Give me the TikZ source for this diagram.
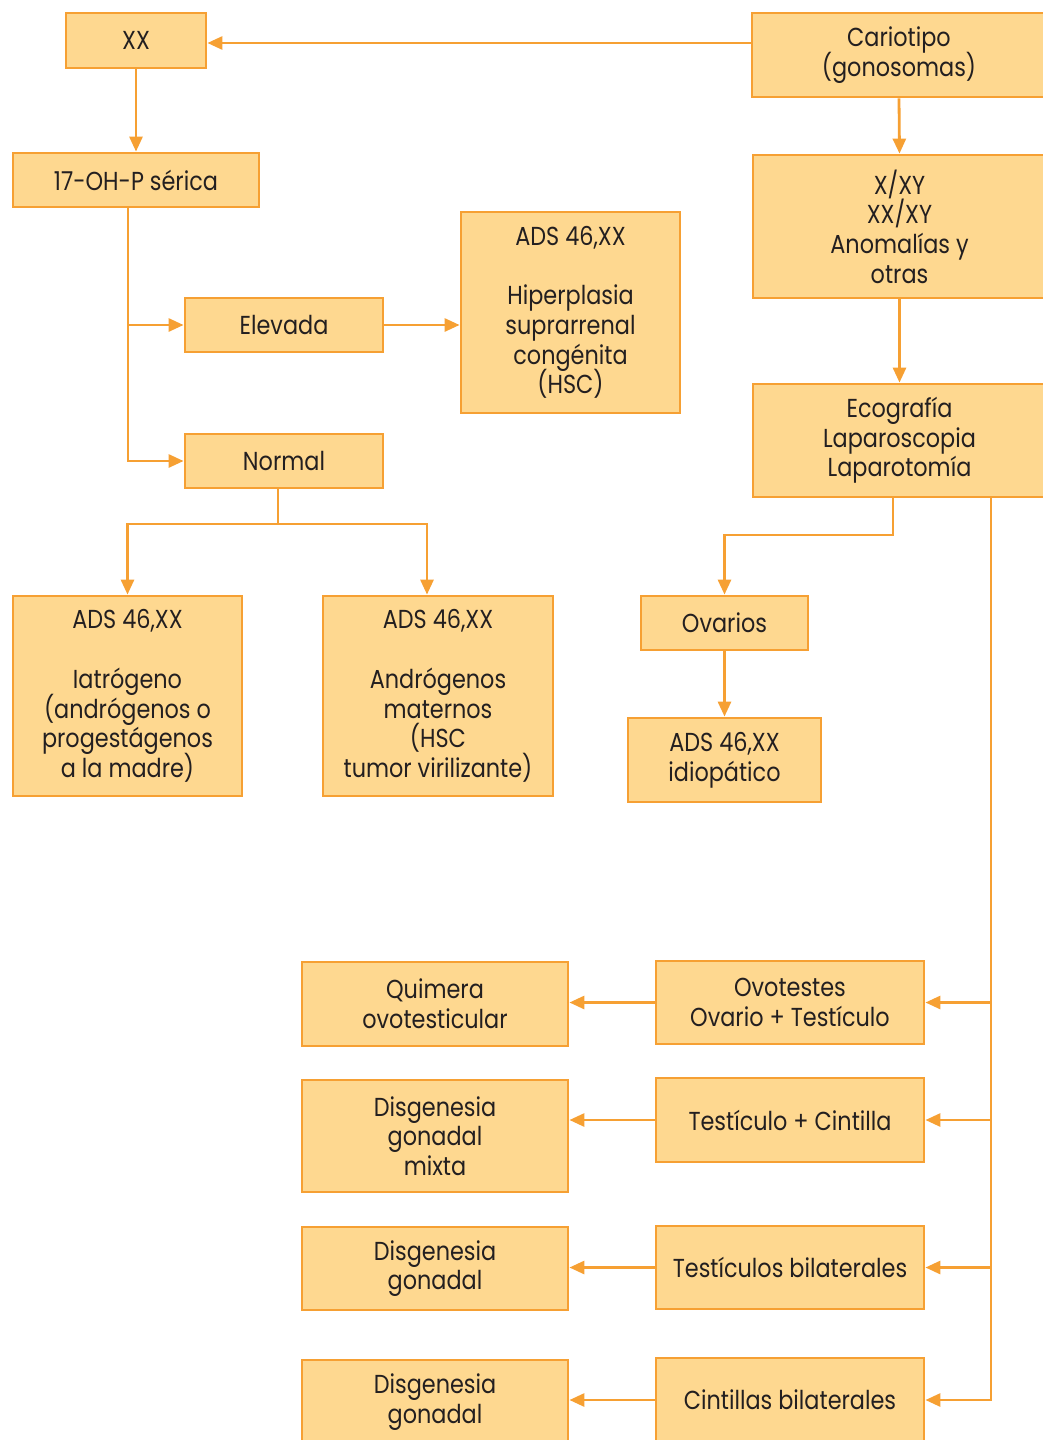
\documentclass[tikz,border=0pt]{standalone}
\usepackage{fontspec}
\setmainfont{Poppins}[FakeStretch=0.86]
\usetikzlibrary{arrows.meta}

\definecolor{boxfill}{HTML}{FED890}
\definecolor{boxline}{HTML}{F6A033}
\definecolor{ink}{HTML}{231F20}

\newcommand{\boxfont}{\fontsize{13}{14.85}\selectfont\lineskiplimit=-20pt\relax}

\tikzset{
  box/.style={draw=boxline, fill=boxfill, line width=1.4pt, inner sep=0pt,
    align=center, text=ink, font=\boxfont},
  arr/.style={draw=boxline, line width=1.4pt,
    -{Triangle[length=7.5pt,width=6.5pt]}},
  ln/.style={draw=boxline, line width=1.4pt}
}

\begin{document}
\begin{tikzpicture}[x=0.5pt, y=-0.5pt]
\useasboundingbox (0,0) rectangle (1043,1440);
\clip (0,0) rectangle (1043,1440);

% Left branch
\node[box, minimum width=70pt, minimum height=27.5pt] (xx) at (136,40.5) {XX};
\node[box, minimum width=123pt, minimum height=27pt] (ohp) at (136,180) {17-OH-P sérica};
\node[box, minimum width=99pt, minimum height=27pt] (elev) at (284,325) {Elevada};
\node[box, minimum width=109.5pt, minimum height=100.5pt] (hsc) at (570.5,312.5)
  {ADS 46,XX\\\mbox{}\\Hiperplasia\\suprarrenal\\congénita\\(HSC)};
\node[box, minimum width=99pt, minimum height=27pt] (normal) at (284,461) {Normal};
\node[box, minimum width=114.5pt, minimum height=100pt] (iatro) at (127.5,696)
  {ADS 46,XX\\\mbox{}\\Iatrógeno\\(andrógenos o\\progestágenos\\a la madre)};
\node[box, minimum width=115pt, minimum height=100pt] (matern) at (438,696)
  {ADS 46,XX\\\mbox{}\\Andrógenos\\maternos\\(HSC\\tumor virilizante)};

% Right branch
\node[box, minimum width=147pt, minimum height=42pt] (cario) at (899,55) {Cariotipo\\(gonosomas)};
\node[box, minimum width=146.5pt, minimum height=71.5pt] (mosaic) at (899.5,226.5)
  {X/XY\\XX/XY\\Anomalías y\\otras};
\node[box, minimum width=146.5pt, minimum height=56.5pt] (eco) at (899.5,440.5)
  {Ecografía\\Laparoscopia\\Laparotomía};
\node[box, minimum width=83.5pt, minimum height=27pt] (ovar) at (724.5,623) {Ovarios};
\node[box, minimum width=96.5pt, minimum height=42pt] (idio) at (724.5,760) {ADS 46,XX\\idiopático};

% Gonads
\node[box, minimum width=134pt, minimum height=41.5pt] (ovot) at (790,1002.5) {Ovotestes\\Ovario + Testículo};
\node[box, minimum width=133pt, minimum height=42pt] (quim) at (435,1004) {Quimera\\ovotesticular};
\node[box, minimum width=134pt, minimum height=42pt] (tcin) at (790,1120) {Testículo + Cintilla};
\node[box, minimum width=133pt, minimum height=56pt] (mixta) at (435,1136) {Disgenesia\\gonadal\\mixta};
\node[box, minimum width=134pt, minimum height=41.5pt] (tbil) at (790,1267.5) {Testículos bilaterales};
\node[box, minimum width=133pt, minimum height=41.5pt] (dgA) at (435,1268.5) {Disgenesia\\gonadal};
\node[box, minimum width=134pt, minimum height=42pt] (cint) at (790,1400) {Cintillas bilaterales};
\node[box, minimum width=133pt, minimum height=42pt] (dgB) at (435,1402) {Disgenesia\\gonadal};

% Junctions
\coordinate (trunkA) at (128,464);
\coordinate (splitN) at (278,524);
\coordinate (splitR) at (427,524);
\coordinate (splitE) at (893,535);
\coordinate (trunkB) at (991,1405);
\coordinate (karyo) at (752,43);

% Connectors
\draw[arr] (karyo) -- (xx.east |- karyo);
\draw[arr] (xx.south) -- (ohp.north);
\draw[arr] (ohp.south -| trunkA) |- (elev.west);
\draw[arr] (ohp.south -| trunkA) |- (normal.west);
\draw[arr] (elev.east) -- (hsc.west |- elev.east);
\draw[ln] (normal.south -| splitN) -- (splitN);
\draw[arr] (splitN) -| (iatro.north);
\draw[arr] (splitN) -- (splitR) -- (splitR |- matern.north);

\draw[arr] (cario.south) -- (mosaic.north);
\draw[arr] (mosaic.south) -- (eco.north);
\draw[arr] (eco.south -| splitE) -- (splitE) -| (ovar.north);
\draw[arr] (ovar.south) -- (idio.north);

\draw[arr] (eco.south -| trunkB) |- (cint.east);
\draw[arr] (trunkB |- ovot.east) -- (ovot.east);
\draw[arr] (trunkB |- tcin.east) -- (tcin.east);
\draw[arr] (trunkB |- tbil.east) -- (tbil.east);

\draw[arr] (ovot.west) -- (quim.east |- ovot.west);
\draw[arr] (tcin.west) -- (mixta.east |- tcin.west);
\draw[arr] (tbil.west) -- (dgA.east |- tbil.west);
\draw[arr] (cint.west) -- (dgB.east |- cint.west);
\end{tikzpicture}
\end{document}
